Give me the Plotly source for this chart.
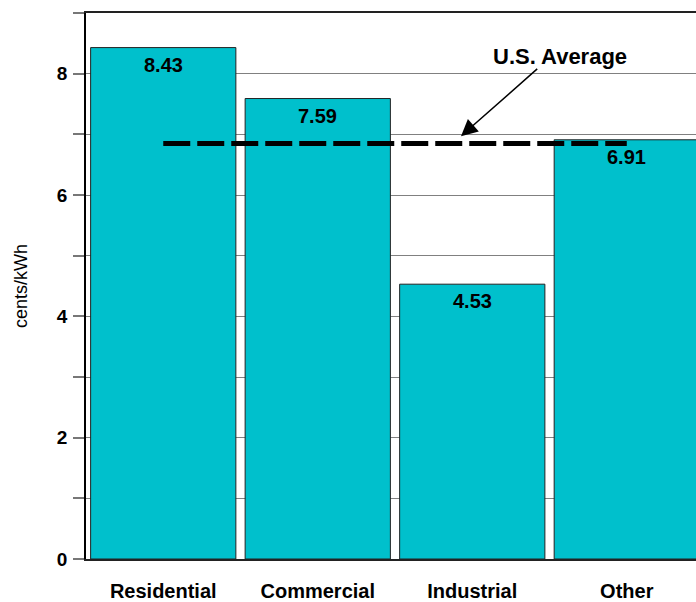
import plotly.graph_objects as go

categories = ["Residential", "Commercial", "Industrial", "Other"]
values = [8.43, 7.59, 4.53, 6.91]
us_average = 6.85
y_tickvals = [0, 1, 2, 3, 4, 5, 6, 7, 8, 9]
y_ticktext = ["0", "", "2", "", "4", "", "6", "", "8", ""]

FONT = "Liberation Sans, Arial, sans-serif"
BAR_COLOR = "#00C0CC"

fig = go.Figure()
fig.add_trace(go.Bar(
    x=categories, y=values, width=0.94,
    marker=dict(color=BAR_COLOR, line=dict(color="#222222", width=1)),
    hoverinfo="skip",
))
fig.add_trace(go.Scatter(
    x=categories, y=[us_average] * len(categories), mode="lines",
    line=dict(color="black", width=5, dash="27px,7px"),
    hoverinfo="skip",
))

for c, v in zip(categories, values):
    fig.add_annotation(x=c, y=v, text=f"<b>{v:.2f}</b>", showarrow=False,
                       yanchor="top", yshift=-4,
                       font=dict(family=FONT, size=20, color="black"))

# U.S. Average label and arrow
fig.add_annotation(x=2.57, y=us_average + 1.43, xref="x", yref="y",
                   text="<b>U.S. Average</b>", showarrow=False,
                   font=dict(family=FONT, size=22, color="black"))
fig.add_annotation(x=1.927, y=us_average + 0.12, ax=2.43, ay=us_average + 1.25,
                   xref="x", yref="y", axref="x", ayref="y", text="",
                   showarrow=True, arrowhead=2, arrowsize=2.2, arrowwidth=1.5,
                   arrowcolor="black")

fig.update_layout(
    width=696, height=602,
    margin=dict(l=86, r=0, t=13, b=41),
    paper_bgcolor="white", plot_bgcolor="white",
    showlegend=False,
    font=dict(family=FONT, color="black"),
    bargap=0.06,
)
fig.update_xaxes(
    type="category", range=[-0.5, 3.448],
    showline=True, linecolor="#222222", linewidth=2, mirror=True,
    showgrid=False, ticks="", ticklabelstandoff=13,
    tickfont=dict(family=FONT, size=20, color="black", weight="bold"),
    fixedrange=True,
)
fig.update_yaxes(
    range=[0, 9], tickvals=y_tickvals, ticktext=y_ticktext,
    showgrid=True, gridcolor="#808080", gridwidth=1.3,
    showline=True, linecolor="black", linewidth=1.5,
    ticks="outside", ticklen=11, tickcolor="#777777", tickwidth=1.5,
    tickfont=dict(family=FONT, size=19, color="black", weight="bold"),
    ticklabelstandoff=2,
    title=dict(text="cents/kWh", font=dict(family=FONT, size=18, color="black"), standoff=25),
    zeroline=False, fixedrange=True,
)

fig.write_html("out.html", config={"displayModeBar": False})
